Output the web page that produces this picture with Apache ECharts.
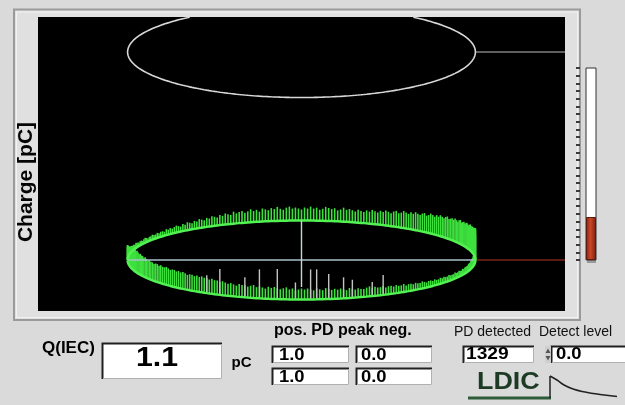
<!DOCTYPE html>
<html><head><meta charset="utf-8">
<script src="https://cdn.jsdelivr.net/npm/echarts@6/dist/echarts.min.js"></script>
<style>html,body{margin:0;padding:0;background:#dadada;}#c{width:625px;height:405px;}</style>
</head><body><div id="c"></div>
<script>
// ---------- DATA ----------
// phase bins: 0..359 deg, step 1 deg (index * phaseStepDeg)
const phaseStepDeg = 1;
// PD charge per phase bin (display units)
const pdCharge = [
  15,13,11,10,9,8,7,7,6,6,   5,5,6,5,4,5,4,4,5,4,
  4,3,4,4,3,4,5,4,3,4,       4,5,4,4,5,4,5,5,4,6,
  5,6,5,6,7,6,5,7,6,8,       7,6,8,7,9,8,7,9,8,10,
  9,8,10,9,11,10,9,12,10,11, 12,10,11,13,11,12,10,13,12,11,
  13,12,14,12,11,13,14,12,13,12, 11,13,12,14,12,13,11,12,14,13,
  12,13,11,12,14,12,13,12,11,13, 12,11,13,12,14,13,12,14,13,15,
  14,13,15,16,14,15,17,16,15,17, 16,18,17,16,18,19,17,18,20,19,
  18,20,19,21,20,19,21,22,20,21, 22,21,23,22,21,23,24,22,23,24,
  23,24,25,24,23,25,26,25,24,26, 25,26,27,26,27,28,29,28,30,31,
  30,27,24,21,18,16,14,12,11,10, 9,9,8,8,7,7,7,6,6,6,
  6,5,6,5,5,6,5,5,6,5,       5,5,6,5,5,6,5,6,5,5,
  6,5,6,6,5,6,7,6,6,7,       6,7,7,6,8,7,7,8,7,8,
  8,7,9,8,8,9,8,10,9,8,      8,9,8,9,10,8,9,10,9,10,
  9,10,11,9,10,11,9,10,11,10, 11,10,9,11,10,12,11,10,11,12,
  11,12,10,11,12,11,13,12,11,12, 12,13,11,12,13,12,13,14,13,14,
  14,15,14,15,15,16,15,16,15,16, 16,15,16,17,16,17,16,17,17,16,
  17,18,17,17,18,17,18,18,17,18, 18,19,18,19,20,19,20,20,21,20,
  21,22,21,22,22,21,22,21,20,21, 20,19,19,18,18,17,17,16,15,15
];
// larger individual pulses (grey)
const tallPhaseDeg = [242,246,253,256,261,265,267,272,278,284,289,298,303];
const tallCharge   = [20,14,18,21,25,30,30,17,30,29,20,26,18];
// bar-graph level indicator
const levelCategory = ['level'];
const levelValue = [5.6];
// readouts
const qIecValue = '1.1';
const posPeak = ['1.0', '1.0'];
const negPeak = ['0.0', '0.0'];
const pdDetected = '1329';
const detectLevel = '0.0';

// ---------- DISPLAY CONSTANTS (layout, not data) ----------
const BASE_Y = 51, BASE_B = 39.5;      // lower (pattern) ellipse
const THR_Y = 259, THR_B = 45.5;       // upper (threshold) ellipse
const Y_MAX = 294;
const FONT = "'Liberation Sans', Arial, Helvetica, sans-serif";

function ellipse(cy, b) {
  const pts = [];
  for (let d = 0; d <= 360; d += 1) {
    const r = d * Math.PI / 180;
    const y = cy + b * Math.sin(r);
    pts.push(y > Y_MAX ? [null, null] : [-Math.cos(r), y]);
  }
  return pts;
}
function barRender(color, width) {
  return function (params, api) {
    const ph = api.value(0) * Math.PI / 180, q = api.value(1);
    const bx = -Math.cos(ph), by = BASE_Y + BASE_B * Math.sin(ph);
    const p0 = api.coord([bx, by]), p1 = api.coord([bx, by + q]);
    return { type: 'line', shape: { x1: p0[0], y1: p0[1], x2: p1[0], y2: p1[1] },
      style: { stroke: color, lineWidth: width } };
  };
}
function sunken(x, y, w, h) {
  return [
    { type: 'rect', shape: { x: x, y: y, width: w, height: h }, style: { fill: '#ffffff' } },
    { type: 'polyline', shape: { points: [[x + 0.5, y + h], [x + 0.5, y + 0.5], [x + w, y + 0.5]] }, style: { stroke: '#202020', lineWidth: 2, fill: null } },
    { type: 'polyline', shape: { points: [[x + 1, y + h - 0.5], [x + w - 0.5, y + h - 0.5], [x + w - 0.5, y + 1]] }, style: { stroke: '#b0b0b0', lineWidth: 1, fill: null } }
  ];
}
function txt(x, y, s, size, bold, opts) {
  opts = opts || {};
  return { type: 'text', x: x, y: y, scaleX: opts.sx || 1, rotation: opts.rot || 0,
    style: { text: s, x: 0, y: 0, font: (bold ? 'bold ' : '') + size + 'px ' + FONT,
      fill: opts.color || '#000', align: opts.align || 'left', verticalAlign: 'middle' } };
}

const graphics = [].concat(
  [
    { type: 'rect', z: -10, shape: { x: 14, y: 9.5, width: 566, height: 310.5 }, style: { fill: '#e0e0e0', stroke: '#9a9a9a', lineWidth: 2 } },
    { type: 'rect', z: -9, shape: { x: 16.5, y: 12, width: 561, height: 305.5 }, style: { fill: null, stroke: '#f2f2f2', lineWidth: 1 } },
    txt(26, 182, 'Charge [pC]', 21, true, { rot: Math.PI / 2, align: 'center', color: '#050505' }),
    txt(42, 348, 'Q(IEC)', 17, true),
    txt(241.5, 362.5, 'pC', 15, true, { align: 'center' }),
    txt(274, 331, 'pos. PD peak neg.', 16, true),
    txt(454, 332, 'PD detected', 14, false, { color: '#111' }),
    txt(539, 332, 'Detect level', 14, false, { color: '#111' })
  ],
  sunken(102, 343, 120, 36),
  sunken(272, 346, 77, 17), sunken(356, 346, 76, 17),
  sunken(272, 368, 77, 17), sunken(356, 368, 76, 17),
  sunken(463, 346, 71, 17), sunken(551, 346, 80, 17),
  [
    { type: 'rect', shape: { x: 545, y: 346, width: 6, height: 17 }, style: { fill: '#cfcfcf' } },
    { type: 'polygon', shape: { points: [[545.5, 353], [548, 348.5], [550.5, 353]] }, style: { fill: '#555' } },
    { type: 'polygon', shape: { points: [[545.5, 356], [548, 360.5], [550.5, 356]] }, style: { fill: '#555' } },
    txt(157, 358, qIecValue, 28, true, { align: 'center', sx: 1.08 }),
    txt(279, 355.5, posPeak[0], 16, true, { sx: 1.15 }),
    txt(361, 355.5, negPeak[0], 16, true, { sx: 1.15 }),
    txt(279, 377.5, posPeak[1], 16, true, { sx: 1.15 }),
    txt(361, 377.5, negPeak[1], 16, true, { sx: 1.15 }),
    txt(466, 355, pdDetected, 16, true, { sx: 1.2 }),
    txt(556, 355, detectLevel, 16, true, { sx: 1.15 }),
    txt(477, 382, 'LDIC', 24, true, { sx: 1.12, color: '#1d3a24' }),
    { type: 'line', shape: { x1: 468, y1: 398, x2: 551, y2: 398 }, style: { stroke: '#2e5c3a', lineWidth: 3 } },
    { type: 'polyline', shape: { points: [[550, 398], [550, 376]] }, style: { stroke: '#222', lineWidth: 1.5, fill: null } },
    { type: 'polyline', shape: { smooth: 0.5, points: [[550, 376], [557, 380], [564, 385], [573, 389], [585, 392], [600, 394.5], [617, 396.5]] }, style: { stroke: '#222', lineWidth: 1.5, fill: null } },
    { type: 'rect', shape: { x: 587, y: 259, width: 9, height: 4 }, style: { fill: '#9a9a9a' } }
  ]
);

const chart = echarts.init(document.getElementById('c'));
chart.setOption({
  animation: false,
  backgroundColor: '#dadada',
  grid: [
    { left: 38, top: 17, width: 527, height: 294, show: true, backgroundColor: '#000', borderWidth: 0 },
    { left: 586, top: 68, width: 10, height: 192, show: false }
  ],
  xAxis: [
    { gridIndex: 0, type: 'value', min: -1.515, max: 1.515, show: false },
    { gridIndex: 1, type: 'category', data: levelCategory, show: false }
  ],
  yAxis: [
    { gridIndex: 0, type: 'value', min: 0, max: Y_MAX, show: false },
    { gridIndex: 1, type: 'value', min: 0, max: 25, interval: 1, position: 'left', offset: 6,
      axisLine: { show: false }, axisLabel: { show: false }, splitLine: { show: false },
      axisTick: { show: true, length: 4, lineStyle: { color: '#3a3a3a', width: 2 } } }
  ],
  graphic: graphics,
  series: [
    { type: 'line', data: ellipse(THR_Y, THR_B), showSymbol: false, clip: true, silent: true, connectNulls: false,
      lineStyle: { color: '#d8d8d8', width: 1.6 } },
    { type: 'line', data: [[1, THR_Y], [1.515, THR_Y]], showSymbol: false, silent: true,
      lineStyle: { color: '#bdbdbd', width: 1.2 } },
    { type: 'line', data: [[-1, BASE_Y], [1, BASE_Y]], showSymbol: false, silent: true,
      lineStyle: { color: '#a9c2cb', width: 1.6 } },
    { type: 'line', data: [[1, BASE_Y], [1.515, BASE_Y]], showSymbol: false, silent: true,
      lineStyle: { color: '#7a2516', width: 1.4 } },
    { type: 'line', data: ellipse(BASE_Y, BASE_B), showSymbol: false, silent: true,
      lineStyle: { color: '#52f252', width: 2.5 } },
    { type: 'custom', silent: true, renderItem: barRender('#3ee03e', 1.6),
      data: pdCharge.map((q, i) => [i * phaseStepDeg, q]) },
    { type: 'custom', silent: true, renderItem: barRender('#c4c4c4', 1.4),
      data: tallPhaseDeg.map((p, i) => [p, tallCharge[i]]) },
    { type: 'line', data: [[0, BASE_Y + BASE_B], [0, BASE_Y - 27]], showSymbol: false, silent: true,
      lineStyle: { color: '#c9d4d6', width: 1.4 } },
    { type: 'bar', xAxisIndex: 1, yAxisIndex: 1, data: levelValue, barWidth: 10, silent: true,
      showBackground: true, backgroundStyle: { color: '#ffffff', borderColor: '#333', borderWidth: 1 },
      itemStyle: { color: new echarts.graphic.LinearGradient(0, 0, 1, 0, [
        { offset: 0, color: '#8a2410' }, { offset: 0.45, color: '#c8472a' }, { offset: 1, color: '#7a1f0e' }]),
        borderColor: '#5a1a0c', borderWidth: 1 } }
  ]
});
</script>
</body></html>
